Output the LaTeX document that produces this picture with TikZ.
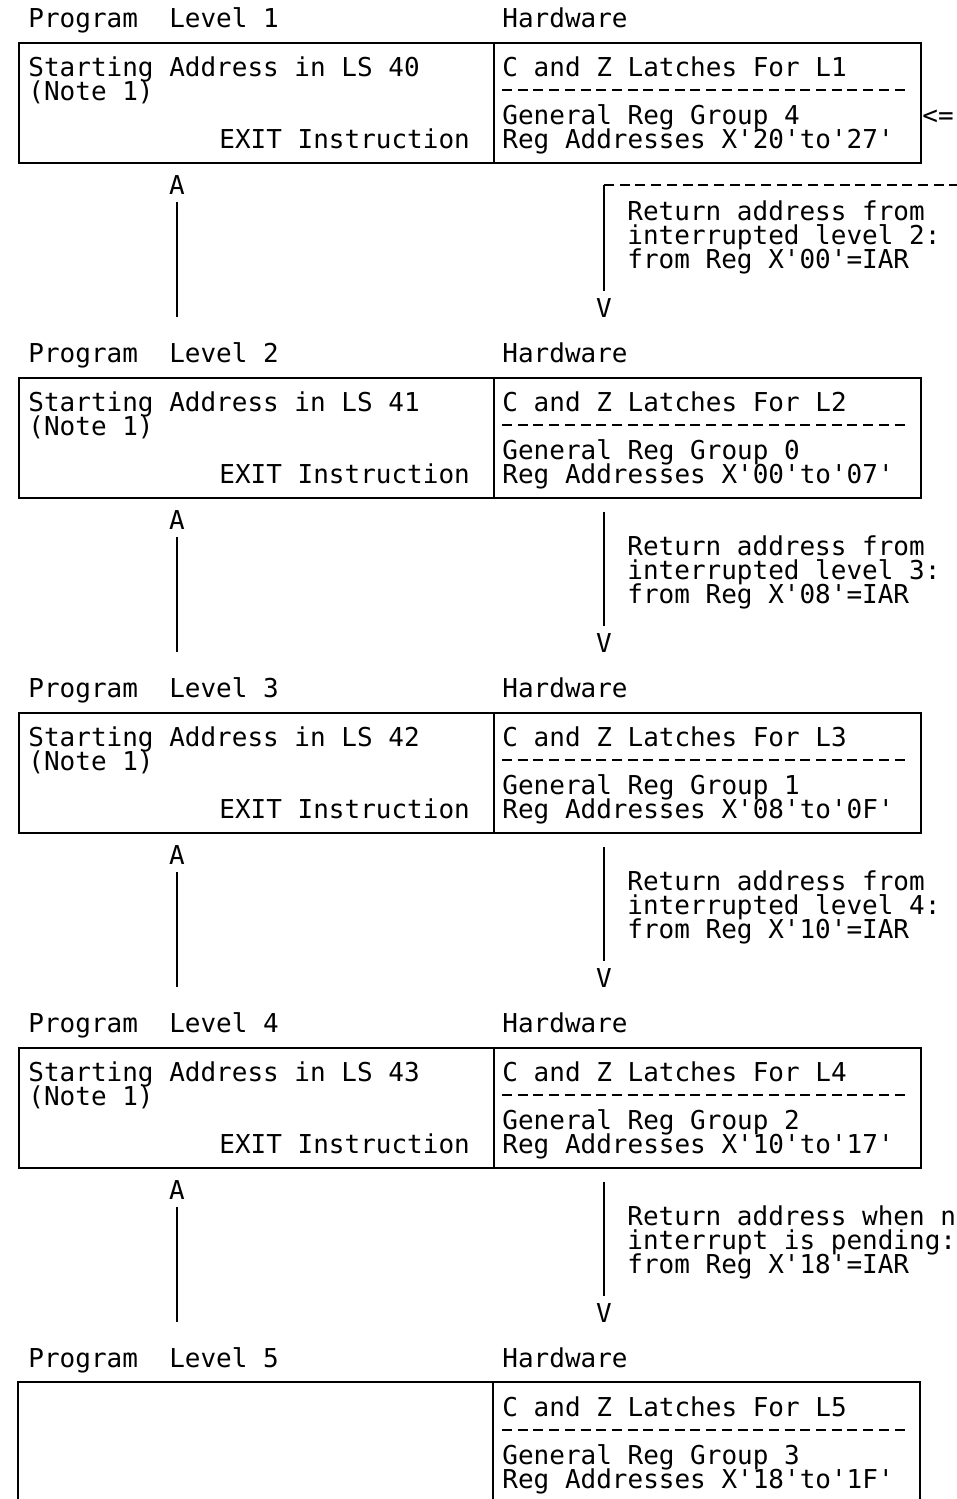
\documentclass[tikz,border=0pt]{standalone}
\usepackage{fontspec}
\setmonofont{DejaVu Sans Mono}
\usepackage{tikz}

\tikzset{
  txt/.style={font=\ttfamily\fontsize{13}{15.6}\selectfont, anchor=base west, inner sep=0pt},
  tip/.style={font=\ttfamily\fontsize{13}{15.6}\selectfont, inner sep=3.5pt},
  boxline/.style={line width=1.2pt},
  box/.style={draw, boxline, anchor=north west, inner sep=0pt, minimum height=60pt},
  dashrow/.style={line width=1pt, dash pattern=on 5pt off 2.85pt},
  stem/.style={line width=0.9pt}
}

\begin{document}
\begin{tikzpicture}[x=0.5pt, y=-0.5pt]
    \useasboundingbox (0,0) rectangle (957,1499);

    % levels 1 to 4, each with its return path
    \foreach \i/\ls/\grp/\regs/\ra/\rb/\iar in {
        1/40/4/{20'to'27}/{Return address from}/{interrupted level 2:}/00,
        2/41/0/{00'to'07}/{Return address from}/{interrupted level 3:}/08,
        3/42/1/{08'to'0F}/{Return address from}/{interrupted level 4:}/10,
        4/43/2/{10'to'17}/{Return address when n}/{interrupt is pending:}/18}
    {
        \pgfmathsetmacro\oy{335*(\i-1)}
        \pgfmathsetmacro\rtop{\i==1 ? 185 : 177}

        \node[txt] at (28, \oy+27) (lvl\i) {Program~~Level \i};
        \node[txt] at (502, \oy+27) (hwl\i) {Hardware};

        \node[box, minimum width=237.5pt] at (18, \oy+42) (prog\i) {};
        \node[box, minimum width=213.5pt] at (493, \oy+42) (hw\i) {};

        \node[txt] at (28, \oy+76) (start\i) {Starting Address in LS \ls};
        \node[txt] at (28, \oy+100) (note\i) {(Note 1)};
        \node[txt] at (219, \oy+148) (exit\i) {EXIT Instruction};

        \node[txt] at (502, \oy+76) (latch\i) {C and Z Latches For L\i};
        \draw[dashrow] (502, \oy+90) -- (910, \oy+90);
        \node[txt] at (502, \oy+124) (grp\i) {General Reg Group \grp};
        \node[txt] at (502, \oy+148) (regs\i) {Reg Addresses X'\regs'};

        \node[tip, anchor=south] at (177, \oy+202) (up\i) {A};
        \coordinate (upend\i) at (177, \oy+317);
        \draw[stem] (up\i) -- (upend\i);

        \node[tip, anchor=north] at (604, \oy+291) (dn\i) {V};
        \coordinate (dntop\i) at (604, \oy+\rtop);
        \draw[stem] (dntop\i) -- (dn\i);

        \node[txt] at (627, \oy+220) (ret\i) {\ra};
        \node[txt] at (627, \oy+244) (retb\i) {\rb};
        \node[txt] at (627, \oy+268) (retc\i) {from Reg X'\iar'=IAR};
    }

    % level 1 extras
    \node[txt] at (922, 124) (back) {<=};
    \coordinate (dashend) at (957, 185);
    \draw[dashrow] (dntop1) -- (dashend);

    % level 5, box runs off the page
    \node[txt] at (28, 1367) (lvl5) {Program~~Level 5};
    \node[txt] at (502, 1367) (hwl5) {Hardware};
    \draw[boxline] (18, 1499) |- (920, 1382) -- (920, 1499);
    \draw[boxline] (493, 1382) -- (493, 1499);
    \node[txt] at (502, 1416) (latch5) {C and Z Latches For L5};
    \draw[dashrow] (502, 1430) -- (910, 1430);
    \node[txt] at (502, 1464) (grp5) {General Reg Group 3};
    \node[txt] at (502, 1488) (regs5) {Reg Addresses X'18'to'1F'};
\end{tikzpicture}
\end{document}
